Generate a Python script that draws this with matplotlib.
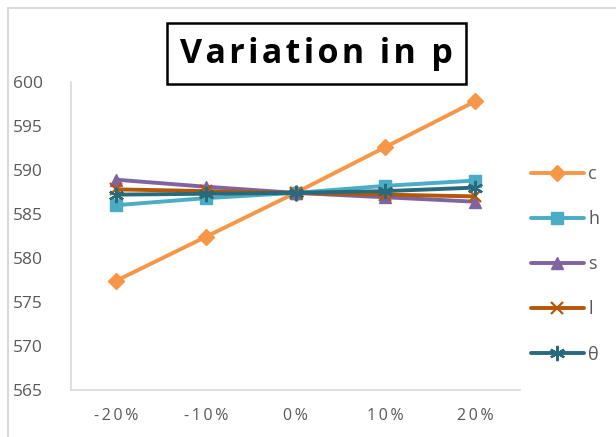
import matplotlib
matplotlib.use("Agg")
import matplotlib.pyplot as plt
from matplotlib.patches import Rectangle
from matplotlib.lines import Line2D

categories = ["-20%", "-10%", "0%", "10%", "20%"]
c_vals = [577.4, 582.4, 587.4, 592.6, 597.8]
h_vals = [586.0, 586.8, 587.4, 588.2, 588.8]
s_vals = [588.9, 588.1, 587.4, 586.9, 586.4]
l_vals = [587.8, 587.6, 587.4, 587.2, 587.0]
t_vals = [587.2, 587.3, 587.4, 587.6, 588.0]
y_ticks = [565, 570, 575, 580, 585, 590, 595, 600]

series = [
    ("c", c_vals, "#F79646", "D", 8, {}),
    ("h", h_vals, "#4BACC6", "s", 8, {}),
    ("s", s_vals, "#8064A2", "^", 9, {}),
    ("l", l_vals, "#B65708", "x", 9, {"markeredgewidth": 1.6}),
    ("θ", t_vals, "#276A7C", (6, 2, 0), 11, {"markeredgewidth": 1.6}),
]

fam = ["Open Sans", "DejaVu Sans"]
plt.rcParams["font.family"] = fam

fig = plt.figure(figsize=(6.16, 4.37), dpi=100)
ax = fig.add_axes([71 / 616, 47 / 437, 449 / 616, 308 / 437])

x = list(range(len(categories)))
for name, vals, col, mk, ms, extra in series:
    ax.plot(x, vals, color=col, lw=2.8, marker=mk, markersize=ms,
            markerfacecolor=col, markeredgecolor=col, label=name,
            solid_capstyle="round", **extra)

ax.set_xlim(-0.5, 4.5)
ax.set_ylim(565, 600)
ax.set_yticks(y_ticks)
ax.set_xticks(x)
spaced = ["\u2009".join(list(s)) for s in categories]
ax.set_xticklabels(spaced)
ax.tick_params(axis="both", length=0, colors="#595959")
ax.tick_params(axis="y", pad=20, labelsize=12.5)
ax.tick_params(axis="x", pad=13, labelsize=11.5)
for sp in ["top", "right"]:
    ax.spines[sp].set_visible(False)
for sp in ["left", "bottom"]:
    ax.spines[sp].set_color("#D9D9D9")
    ax.spines[sp].set_linewidth(1.2)

leg = fig.legend(loc="upper left", bbox_to_anchor=(524 / 616, 1 - 158 / 437),
                 frameon=False, fontsize=13, handlelength=2.9,
                 handletextpad=0.25, labelspacing=1.5, borderaxespad=0)
for t in leg.get_texts():
    t.set_color("#595959")

# outer chart border (top and left visible)
fig.add_artist(Line2D([7.5 / 616, 1.0], [1 - 7.5 / 437, 1 - 7.5 / 437],
                      color="#D9D9D9", lw=1.5, transform=fig.transFigure))
fig.add_artist(Line2D([7.5 / 616, 7.5 / 616], [0, 1 - 7.5 / 437],
                      color="#D9D9D9", lw=1.5, transform=fig.transFigure))

# title box
fig.add_artist(Rectangle((167 / 616, 1 - 84 / 437), 299 / 616, 61 / 437,
                         fill=False, edgecolor="black", lw=1.8,
                         transform=fig.transFigure))
fig.text(316 / 616, 1 - 63 / 437, "\u200a".join(list("Variation in p")),
         ha="center", va="baseline", fontsize=24.5, fontweight="bold",
         color="black", family=fam)

fig.savefig("out.png", dpi=100)
